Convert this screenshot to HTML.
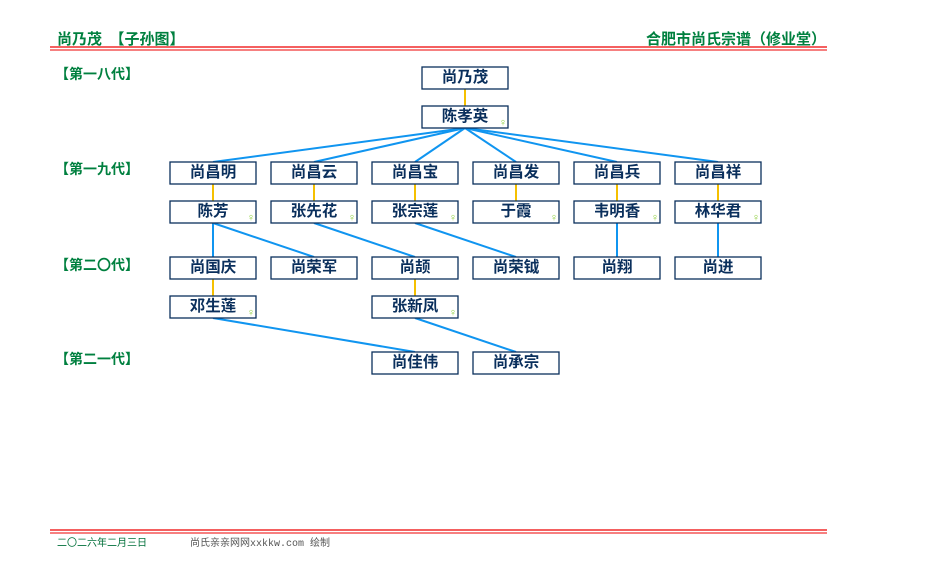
<!DOCTYPE html>
<html><head><meta charset="utf-8"><style>
html,body{margin:0;padding:0;background:#fff;width:926px;height:580px;overflow:hidden}
svg{display:block}
.t{font-family:"Liberation Sans","Noto Sans CJK SC",sans-serif;font-weight:bold;font-size:15.5px;fill:#0a2f5c;text-anchor:middle}
.g{font-family:"Liberation Sans","Noto Sans CJK SC",sans-serif;font-weight:bold;font-size:14px;fill:#00803f}
.f{font-family:"Liberation Sans","DejaVu Sans",sans-serif;font-size:11px;fill:#8fcf3f;text-anchor:middle}
rect{fill:#fff;stroke:#0a2f5c;stroke-width:1.3}
.b{stroke:#1095f0;stroke-width:2;fill:none}
.y{stroke:#f5c000;stroke-width:2;fill:none}
</style></head><body>
<svg width="926" height="580" xmlns="http://www.w3.org/2000/svg">
<text class="g" x="57" y="44" style="font-size:15px" xml:space="preserve">尚乃茂　【子孙图】</text>
<text class="g" x="826" y="44" style="font-size:15px;text-anchor:end">合肥市尚氏宗谱（修业堂）</text>
<line x1="50" y1="47" x2="827" y2="47" stroke="#e00" stroke-width="1.3"/>
<line x1="50" y1="50" x2="827" y2="50" stroke="#e00" stroke-width="1"/>
<line x1="50" y1="530" x2="827" y2="530" stroke="#e00" stroke-width="1.3"/>
<line x1="50" y1="533" x2="827" y2="533" stroke="#e00" stroke-width="1"/>
<text x="57" y="546" style="font-family:'Liberation Sans','Noto Sans CJK SC',sans-serif;font-size:10px;fill:#00703a">二〇二六年二月三日</text>
<text x="190" y="546" style="font-family:'Liberation Mono','Noto Sans CJK SC',monospace;font-size:10px;fill:#555">尚氏亲亲网网xxkkw.com 绘制</text>

<text class="g" x="55" y="79">【第一八代】</text>
<text class="g" x="55" y="174">【第一九代】</text>
<text class="g" x="55" y="270">【第二〇代】</text>
<text class="g" x="55" y="364">【第二一代】</text>

<g class="b">
<line x1="465" y1="128" x2="213" y2="162"/>
<line x1="465" y1="128" x2="314" y2="162"/>
<line x1="465" y1="128" x2="415" y2="162"/>
<line x1="465" y1="128" x2="516" y2="162"/>
<line x1="465" y1="128" x2="617" y2="162"/>
<line x1="465" y1="128" x2="718" y2="162"/>
<line x1="213" y1="223" x2="213" y2="257"/>
<line x1="213" y1="223" x2="314" y2="257"/>
<line x1="314" y1="223" x2="415" y2="257"/>
<line x1="415" y1="223" x2="516" y2="257"/>
<line x1="617" y1="223" x2="617" y2="257"/>
<line x1="718" y1="223" x2="718" y2="257"/>
<line x1="213" y1="318" x2="415" y2="352"/>
<line x1="415" y1="318" x2="516" y2="352"/>
</g>
<g class="y">
<line x1="465" y1="89" x2="465" y2="106"/>
<line x1="213" y1="184" x2="213" y2="201"/>
<line x1="314" y1="184" x2="314" y2="201"/>
<line x1="415" y1="184" x2="415" y2="201"/>
<line x1="516" y1="184" x2="516" y2="201"/>
<line x1="617" y1="184" x2="617" y2="201"/>
<line x1="718" y1="184" x2="718" y2="201"/>
<line x1="213" y1="279" x2="213" y2="296"/>
<line x1="415" y1="279" x2="415" y2="296"/>
</g>

<g>
<rect x="422" y="67" width="86" height="22"/><text class="t" x="465" y="82">尚乃茂</text>
<rect x="422" y="106" width="86" height="22"/><text class="t" x="465" y="121">陈孝英</text><text class="f" x="503" y="126">♀</text>

<rect x="170" y="162" width="86" height="22"/><text class="t" x="213" y="177">尚昌明</text>
<rect x="271" y="162" width="86" height="22"/><text class="t" x="314" y="177">尚昌云</text>
<rect x="372" y="162" width="86" height="22"/><text class="t" x="415" y="177">尚昌宝</text>
<rect x="473" y="162" width="86" height="22"/><text class="t" x="516" y="177">尚昌发</text>
<rect x="574" y="162" width="86" height="22"/><text class="t" x="617" y="177">尚昌兵</text>
<rect x="675" y="162" width="86" height="22"/><text class="t" x="718" y="177">尚昌祥</text>

<rect x="170" y="201" width="86" height="22"/><text class="t" x="213" y="216">陈芳</text><text class="f" x="251" y="221">♀</text>
<rect x="271" y="201" width="86" height="22"/><text class="t" x="314" y="216">张先花</text><text class="f" x="352" y="221">♀</text>
<rect x="372" y="201" width="86" height="22"/><text class="t" x="415" y="216">张宗莲</text><text class="f" x="453" y="221">♀</text>
<rect x="473" y="201" width="86" height="22"/><text class="t" x="516" y="216">于霞</text><text class="f" x="554" y="221">♀</text>
<rect x="574" y="201" width="86" height="22"/><text class="t" x="617" y="216">韦明香</text><text class="f" x="655" y="221">♀</text>
<rect x="675" y="201" width="86" height="22"/><text class="t" x="718" y="216">林华君</text><text class="f" x="756" y="221">♀</text>

<rect x="170" y="257" width="86" height="22"/><text class="t" x="213" y="272">尚国庆</text>
<rect x="271" y="257" width="86" height="22"/><text class="t" x="314" y="272">尚荣军</text>
<rect x="372" y="257" width="86" height="22"/><text class="t" x="415" y="272">尚颉</text>
<rect x="473" y="257" width="86" height="22"/><text class="t" x="516" y="272">尚荣钺</text>
<rect x="574" y="257" width="86" height="22"/><text class="t" x="617" y="272">尚翔</text>
<rect x="675" y="257" width="86" height="22"/><text class="t" x="718" y="272">尚进</text>

<rect x="170" y="296" width="86" height="22"/><text class="t" x="213" y="311">邓生莲</text><text class="f" x="251" y="316">♀</text>
<rect x="372" y="296" width="86" height="22"/><text class="t" x="415" y="311">张新凤</text><text class="f" x="453" y="316">♀</text>

<rect x="372" y="352" width="86" height="22"/><text class="t" x="415" y="367">尚佳伟</text>
<rect x="473" y="352" width="86" height="22"/><text class="t" x="516" y="367">尚承宗</text>
</g>
</svg>
</body></html>
